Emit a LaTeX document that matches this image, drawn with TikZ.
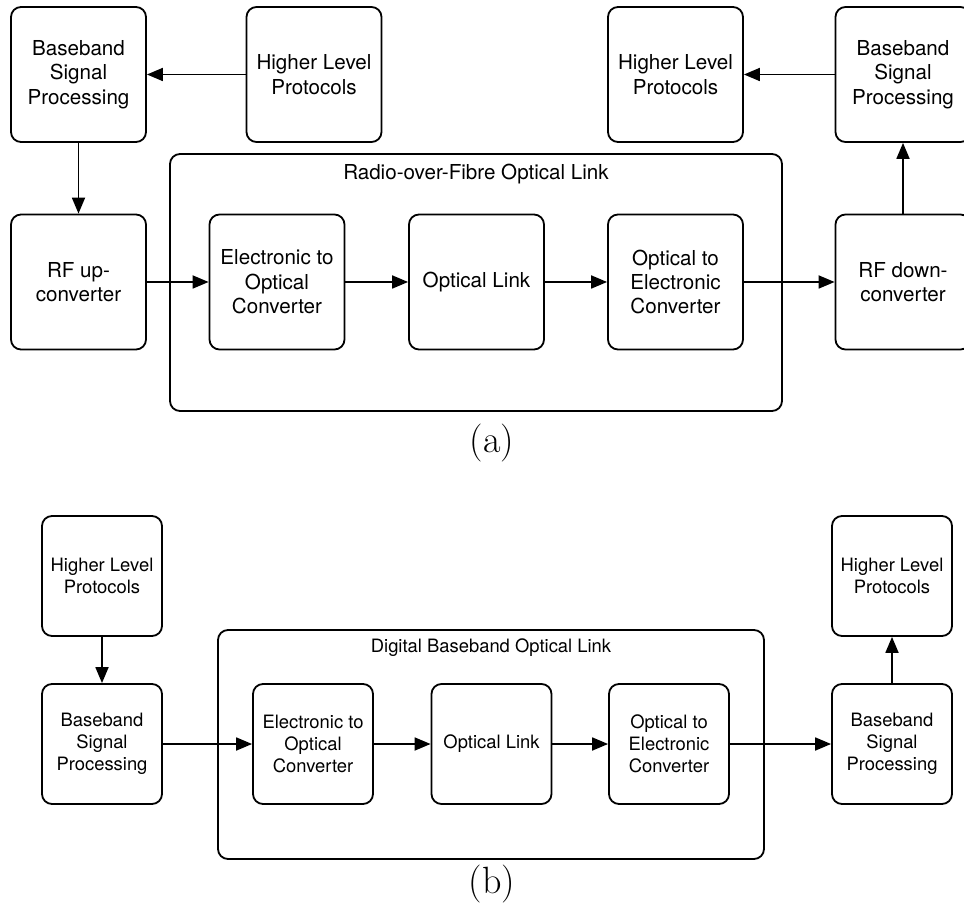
\documentclass[tikz,border=0pt]{standalone}
\usepackage{fontspec}
\setsansfont{TeX Gyre Heros}
\usetikzlibrary{arrows.meta,positioning}

\tikzset{
  blk/.style={draw, rounded corners=5pt, line width=0.9pt, align=center, inner sep=0pt,
    font=\sffamily\fontsize{10.3}{12.2}\selectfont, minimum width=67.5pt, minimum height=67.5pt},
  blkb/.style={blk, font=\sffamily\fontsize{9.2}{10.9}\selectfont, minimum width=60pt, minimum height=60pt},
  linkbox/.style={draw, rounded corners=5pt, line width=0.9pt, inner sep=0pt},
  fl/.style={-{Triangle[length=8pt,width=6.5pt]}, line width=0.9pt},
  subcap/.style={font=\fontsize{19}{22}\selectfont, inner sep=0pt},
}

\begin{document}
\begin{tikzpicture}[x=0.5pt,y=-0.5pt]
\useasboundingbox (0,0) rectangle (964,914);

% (a) Radio-over-Fibre
\node[linkbox, minimum width=306pt, minimum height=128.5pt] (rof) at (476,282.5) {};
\node[font=\sffamily\fontsize{10.3}{12.2}\selectfont] (roflbl) at (476,174) {Radio-over-Fibre Optical Link};

\node[blk] (bbA) at (78.5,74.5) {Baseband\\Signal\\Processing};
\node[blk] (hlA) at (314,74.5) {Higher Level\\Protocols};
\node[blk] (rfup) at (78.5,282) {RF up-\\converter};
\node[blk] (eoA) at (277,282) {Electronic to\\Optical\\Converter};
\node[blk] (olA) at (476.5,282) {Optical Link};
\node[blk] (oeA) at (675.5,282) {Optical to\\Electronic\\Converter};
\node[blk] (rfdown) at (903,282) {RF down-\\converter};
\node[blk] (bbA2) at (903,74.5) {Baseband\\Signal\\Processing};
\node[blk] (hlA2) at (675.5,74.5) {Higher Level\\Protocols};

\draw[fl] (hlA) -- (bbA);
\draw[fl] (bbA) -- (rfup);
\draw[fl] (rfup) -- (eoA);
\draw[fl] (eoA) -- (olA);
\draw[fl] (olA) -- (oeA);
\draw[fl] (oeA) -- (rfdown);
\draw[fl] (rfdown) -- (bbA2);
\draw[fl] (bbA2) -- (hlA2);

\node[subcap] (capA) at (492,443) {(a)};

% (b) Digital baseband
\node[linkbox, minimum width=273pt, minimum height=114.5pt] (dbl) at (491,744.5) {};
\node[font=\sffamily\fontsize{9.2}{10.9}\selectfont] (dbllbl) at (491,648) {Digital Baseband Optical Link};

\node[blkb] (hlB) at (102,576) {Higher Level\\Protocols};
\node[blkb] (bbB) at (102,744) {Baseband\\Signal\\Processing};
\node[blkb] (eoB) at (313,744) {Electronic to\\Optical\\Converter};
\node[blkb] (olB) at (491.5,744) {Optical Link};
\node[blkb] (oeB) at (669,744) {Optical to\\Electronic\\Converter};
\node[blkb] (bbB2) at (892,744) {Baseband\\Signal\\Processing};
\node[blkb] (hlB2) at (892,576) {Higher Level\\Protocols};

\draw[fl] (hlB) -- (bbB);
\draw[fl] (bbB) -- (eoB);
\draw[fl] (eoB) -- (olB);
\draw[fl] (olB) -- (oeB);
\draw[fl] (oeB) -- (bbB2);
\draw[fl] (bbB2) -- (hlB2);

\node[subcap] (capB) at (492,884) {(b)};
\end{tikzpicture}
\end{document}
